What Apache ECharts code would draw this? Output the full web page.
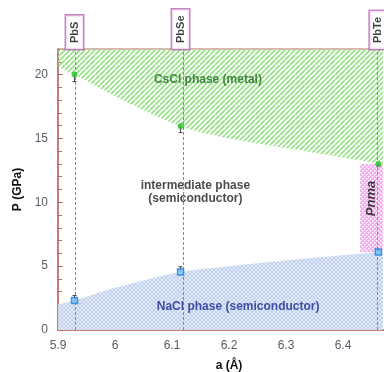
<!DOCTYPE html>
<html>
<head>
<meta charset="utf-8">
<script src="https://cdn.jsdelivr.net/npm/echarts@6/dist/echarts.min.js"></script>
<style>
  html, body { margin: 0; padding: 0; background: #fff; }
  #chart { width: 384px; height: 372px; }
</style>
</head>
<body>
<div id="chart"></div>
<script>
// Lead chalcogenides: lattice constant and transition pressures
const compounds = ['PbS', 'PbSe', 'PbTe'];
const latticeA = [5.929, 6.115, 6.462];
const cesiumOnsetP = [20.0, 15.95, 13.0];
const cesiumErrLow = [19.45, 15.45, 12.85];
const rocksaltLimitP = [2.3, 4.55, 6.1];
const rocksaltErrHigh = [2.7, 4.95, 6.3];

// phase boundaries
const boundaryA = [5.9, 5.929, 6.0, 6.115, 6.2, 6.3, 6.4, 6.47];
const cesiumBoundaryP = [20.6, 20.0, 18.3, 15.95, 15.0, 14.25, 13.5, 12.95];
const rocksaltBoundaryP = [2.0, 2.3, 3.3, 4.55, 5.0, 5.45, 5.85, 6.13];

// orthorhombic Pnma window
const pnmaA = [6.43, 6.47];
const pnmaP = [6.1, 13.0];

function hatch(size, bg, draw) {
  const c = document.createElement('canvas');
  c.width = size; c.height = size;
  const ctx = c.getContext('2d');
  if (bg) { ctx.fillStyle = bg; ctx.fillRect(0, 0, size, size); }
  draw(ctx, size);
  return c;
}

const greenHatch = hatch(5, null, (ctx, s) => {
  ctx.strokeStyle = '#94e284';
  ctx.lineWidth = 1.7;
  ctx.beginPath();
  for (let k = -1; k <= 1; k++) {
    ctx.moveTo(k * s, s);
    ctx.lineTo(k * s + s, 0);
  }
  ctx.stroke();
});

const blueHatch = hatch(4, '#e3ebf8', (ctx, s) => {
  ctx.strokeStyle = '#b4c8ea';
  ctx.lineWidth = 0.8;
  ctx.beginPath();
  for (let k = -1; k <= 1; k++) {
    ctx.moveTo(k * s, s); ctx.lineTo(k * s + s, 0);
    ctx.moveTo(k * s, 0); ctx.lineTo(k * s + s, s);
  }
  ctx.stroke();
});

const pinkDots = hatch(4, '#f2aef0', (ctx) => {
  ctx.fillStyle = '#ffffff';
  ctx.fillRect(0, 0, 1.5, 1.5);
  ctx.fillRect(2, 2, 1.5, 1.5);
});

const axisRed = '#c06a6a';

const chart = echarts.init(document.getElementById('chart'), null, { renderer: 'canvas' });

chart.setOption({
  animation: false,
  grid: {
    left: 58, top: 49, width: 342, height: 281,
    outerBoundsMode: 'none', containLabel: false,
    show: true, borderColor: axisRed, borderWidth: 1.2, backgroundColor: 'transparent'
  },
  xAxis: {
    type: 'value', min: 5.9, max: 6.5, interval: 0.1,
    name: 'a (Å)', nameLocation: 'middle', nameGap: 30,
    nameTextStyle: { fontFamily: 'Liberation Sans', fontWeight: 'bold', fontSize: 12, color: '#111' },
    axisLine: { lineStyle: { color: axisRed, width: 1.5 } },
    axisTick: { inside: true, length: 5, lineStyle: { color: axisRed } },
    minorTick: { show: true, splitNumber: 2, length: 5, lineStyle: { color: axisRed } },
    splitLine: { show: false },
    axisLabel: {
      margin: 10, color: '#5a5a66', fontFamily: 'Liberation Sans', fontSize: 12,
      formatter: v => (Math.round(v * 10) / 10).toString()
    }
  },
  yAxis: {
    type: 'value', min: 0, max: 22, interval: 5,
    name: 'P (GPa)', nameLocation: 'middle', nameGap: 32,
    nameTextStyle: { fontFamily: 'Liberation Sans', fontWeight: 'bold', fontSize: 12, color: '#111' },
    axisLine: { show: true, lineStyle: { color: axisRed, width: 1.5 } },
    axisTick: { show: true, inside: true, length: 5, lineStyle: { color: axisRed } },
    minorTick: { show: true, splitNumber: 5, length: 4, lineStyle: { color: axisRed } },
    splitLine: { show: false },
    axisLabel: { margin: 10, color: '#5a5a66', fontFamily: 'Liberation Sans', fontSize: 12, showMaxLabel: false }
  },
  series: [
    {
      name: 'CsCl phase', type: 'line', smooth: 0.3, symbol: 'none', z: 1,
      data: boundaryA.map((a, i) => [a, cesiumBoundaryP[i]]),
      lineStyle: { width: 0 },
      areaStyle: { origin: 'end', opacity: 1, color: { image: greenHatch, repeat: 'repeat' } }
    },
    {
      name: 'NaCl phase', type: 'line', smooth: 0.3, symbol: 'none', z: 1,
      data: boundaryA.map((a, i) => [a, rocksaltBoundaryP[i]]),
      lineStyle: { width: 0 },
      areaStyle: { origin: 'start', opacity: 1, color: { image: blueHatch, repeat: 'repeat' } },
      markArea: {
        silent: true,
        itemStyle: { color: { image: pinkDots, repeat: 'repeat' }, opacity: 1 },
        data: [[{ coord: [pnmaA[0], pnmaP[0]] }, { coord: [pnmaA[1], pnmaP[1]] }]]
      }
    },
    {
      name: 'compounds', type: 'scatter', symbolSize: 0, clip: false, z: 3,
      data: compounds.map((c, i) => ({ name: c, value: [latticeA[i], 22] })),
      label: {
        show: true, formatter: '{b}', position: 'top', distance: 0, rotate: 90,
        align: 'left', verticalAlign: 'middle',
        fontFamily: 'Liberation Sans', fontWeight: 'bold', fontSize: 11, color: '#111',
        borderColor: '#b966b9', borderWidth: 1.5, padding: [3, 6, 3, 6], backgroundColor: '#fff'
      },
      markLine: {
        silent: true, symbol: ['none', 'none'], label: { show: false },
        lineStyle: { type: [3, 2], color: '#8a8a8a', width: 1 },
        data: latticeA.map(a => ({ xAxis: a }))
      }
    },
    {
      name: 'error bars', type: 'custom', z: 4,
      data: latticeA.map((a, i) => [a, cesiumErrLow[i], cesiumOnsetP[i]])
        .concat(latticeA.map((a, i) => [a, rocksaltLimitP[i], rocksaltErrHigh[i]])),
      renderItem: (params, api) => {
        const lo = api.coord([api.value(0), api.value(1)]);
        const hi = api.coord([api.value(0), api.value(2)]);
        const st = { stroke: '#444', lineWidth: 1 };
        const capY = params.dataIndex < 3 ? lo[1] : hi[1];
        return {
          type: 'group', children: [
            { type: 'line', shape: { x1: lo[0], y1: lo[1], x2: hi[0], y2: hi[1] }, style: st },
            { type: 'line', shape: { x1: lo[0] - 2, y1: capY, x2: lo[0] + 2, y2: capY }, style: st }
          ]
        };
      }
    },
    {
      name: 'CsCl onset', type: 'scatter', symbol: 'circle', symbolSize: 6, z: 5,
      itemStyle: { color: '#28c028' },
      data: latticeA.map((a, i) => [a, cesiumOnsetP[i]])
    },
    {
      name: 'NaCl limit', type: 'scatter', symbol: 'rect', symbolSize: 6, z: 5,
      itemStyle: { color: '#7cc8f8', borderColor: '#1f7fe0', borderWidth: 1.5 },
      data: latticeA.map((a, i) => [a, rocksaltLimitP[i]])
    },
    {
      name: 'phase labels', type: 'scatter', symbolSize: 0, z: 6, silent: true,
      label: {
        show: true, position: 'inside', formatter: '{b}',
        fontFamily: 'Liberation Sans', fontWeight: 'bold', fontSize: 12, lineHeight: 13
      },
      data: [
        { name: 'CsCl phase (metal)', value: [6.163, 19.6], label: { color: '#1f6a1f' } },
        { name: 'intermediate phase\n(semiconductor)', value: [6.141, 10.8], label: { color: '#1a1a1a' } },
        { name: 'NaCl phase (semiconductor)', value: [6.216, 1.85], label: { color: '#1c2890' } },
        { name: 'Pnma', value: [6.449, 10.3], label: { color: '#111', fontStyle: 'italic', fontSize: 13, rotate: 90 } }
      ]
    }
  ]
});
</script>
</body>
</html>
